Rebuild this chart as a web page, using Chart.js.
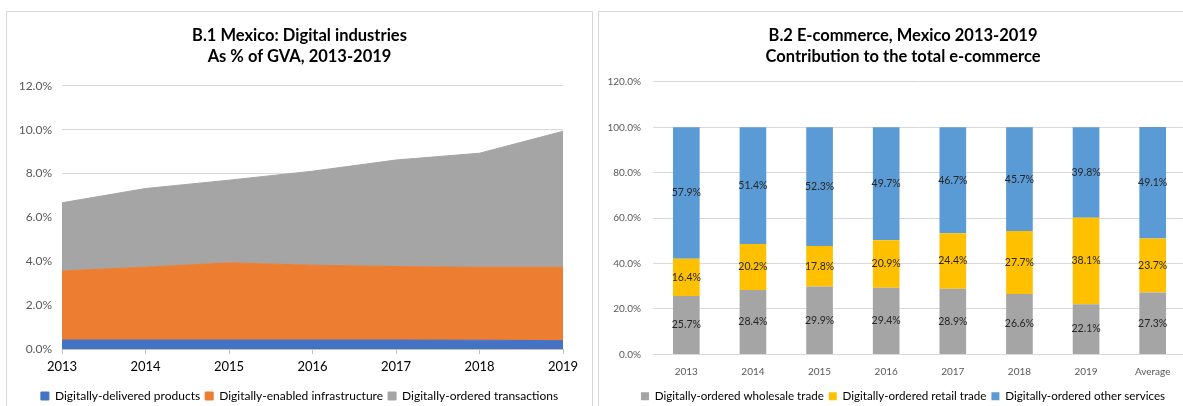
<!DOCTYPE html>
<html>
<head>
<meta charset="utf-8">
<script src="https://cdn.jsdelivr.net/npm/chart.js@4.4.1/dist/chart.umd.min.js"></script>
<style>
  html, body { margin: 0; padding: 0; background: #fff; overflow: hidden; }
  body { width: 1183px; height: 406px; position: relative; }
  .panel { position: absolute; top: 11px; border: 1px solid #d9d9d9; box-sizing: border-box; background: #fff; }
  #p1 { left: 6px; width: 587px; height: 420px; }
  #p2 { left: 598px; width: 640px; height: 420px; }
  canvas { position: absolute; left: 0; top: 0; }
</style>
</head>
<body>
<div class="panel" id="p1"><canvas id="gvaChart" width="585" height="400"></canvas></div>
<div class="panel" id="p2"><canvas id="ecomChart" width="608" height="400"></canvas></div>
<script>
// B.1 data (% of GVA)
const years = ['2013', '2014', '2015', '2016', '2017', '2018', '2019'];
const delivered = [0.41, 0.41, 0.41, 0.41, 0.41, 0.40, 0.38];
const infrastructure = [3.15, 3.32, 3.52, 3.41, 3.35, 3.33, 3.35];
const transactions = [3.11, 3.59, 3.77, 4.29, 4.86, 5.20, 6.20];

// B.2 data (% of total e-commerce)
const ecomCats = ['2013', '2014', '2015', '2016', '2017', '2018', '2019', 'Average'];
const wholesale = [25.7, 28.4, 29.9, 29.4, 28.9, 26.6, 22.1, 27.3];
const retail = [16.4, 20.2, 17.8, 20.9, 24.4, 27.7, 38.1, 23.7];
const otherServices = [57.9, 51.4, 52.3, 49.7, 46.7, 45.7, 39.8, 49.1];

const FONT = 'Lato, "Open Sans", sans-serif';
const pct = v => Number(v).toFixed(1) + '%';

// value labels in the middle of each bar segment
const barLabels = {
    id: 'barLabels',
    afterDatasetsDraw(chart) {
        const ctx = chart.ctx;
        ctx.save();
        ctx.font = '10.5px ' + FONT;
        ctx.fillStyle = '#262626';
        ctx.textAlign = 'center';
        ctx.textBaseline = 'middle';
        chart.data.datasets.forEach((ds, i) => {
            chart.getDatasetMeta(i).data.forEach((bar, j) => {
                const p = bar.getCenterPoint();
                ctx.fillText(pct(ds.data[j]), p.x, p.y);
            });
        });
        ctx.restore();
    }
};

const legendOpts = size => ({
    position: 'bottom',
    labels: { color: '#000', font: { family: FONT, size: size }, boxWidth: 8, boxHeight: 8, padding: 5 }
});

// empty axis on the right, only to keep the plot off the right edge
const spacer = w => ({
    type: 'linear',
    position: 'right',
    afterFit: s => { s.width = w; },
    grid: { display: false },
    border: { display: false },
    ticks: { display: false }
});

// B.1 stacked area chart
new Chart(document.getElementById('gvaChart'), {
    type: 'line',
    data: {
        labels: years,
        datasets: [
            { label: 'Digitally-delivered products', data: delivered, backgroundColor: '#4472C4', borderColor: '#4472C4', fill: 'origin' },
            { label: 'Digitally-enabled infrastructure', data: infrastructure, backgroundColor: '#ED7D31', borderColor: '#ED7D31', fill: '-1' },
            { label: 'Digitally-ordered transactions', data: transactions, backgroundColor: '#A5A5A5', borderColor: '#A5A5A5', fill: '-1' }
        ]
    },
    options: {
        responsive: false,
        animation: false,
        elements: { point: { radius: 0 }, line: { borderWidth: 1, tension: 0 } },
        plugins: {
            title: {
                display: true,
                text: ['B.1 Mexico: Digital industries', 'As % of GVA, 2013-2019'],
                color: '#000',
                font: { family: FONT, size: 16.5, weight: 'bold', lineHeight: 1.27 },
                padding: { top: 13, bottom: 19 }
            },
            legend: legendOpts(12),
            tooltip: { enabled: false }
        },
        scales: {
            x: {
                offset: false,
                afterFit: s => { s.height = 36; },
                grid: { drawOnChartArea: false, color: '#bfbfbf', tickLength: 5 },
                border: { color: '#bfbfbf' },
                ticks: { color: '#000', padding: 5, font: { family: FONT, size: 13 }, maxRotation: 0 }
            },
            y: {
                stacked: true,
                min: 0,
                max: 12,
                afterFit: s => { s.width = 55; },
                grid: { color: '#d9d9d9', drawTicks: false },
                border: { display: false },
                ticks: { stepSize: 2, color: '#595959', padding: 10, font: { family: FONT, size: 12 }, callback: pct }
            },
            pad: spacer(29)
        }
    }
});

// B.2 stacked bar chart
new Chart(document.getElementById('ecomChart'), {
    type: 'bar',
    data: {
        labels: ecomCats,
        datasets: [
            { label: 'Digitally-ordered wholesale trade', data: wholesale, backgroundColor: '#A5A5A5' },
            { label: 'Digitally-ordered retail trade', data: retail, backgroundColor: '#FFC000' },
            { label: 'Digitally-ordered other services', data: otherServices, backgroundColor: '#5B9BD5' }
        ]
    },
    options: {
        responsive: false,
        animation: false,
        categoryPercentage: 1,
        barPercentage: 0.4,
        plugins: {
            title: {
                display: true,
                text: ['B.2 E-commerce, Mexico 2013-2019', 'Contribution to the total e-commerce'],
                color: '#000',
                font: { family: FONT, size: 16.5, weight: 'bold', lineHeight: 1.27 },
                padding: { top: 13, bottom: 15 }
            },
            legend: legendOpts(11.6),
            tooltip: { enabled: false }
        },
        scales: {
            x: {
                stacked: true,
                afterFit: s => { s.height = 31; },
                grid: { display: false },
                border: { color: '#d9d9d9' },
                ticks: { color: '#595959', padding: 3, font: { family: FONT, size: 10 } }
            },
            y: {
                stacked: true,
                min: 0,
                max: 120,
                afterFit: s => { s.width = 54; },
                grid: { color: '#d9d9d9', drawTicks: false },
                border: { display: false },
                ticks: { stepSize: 20, color: '#595959', padding: 12, font: { family: FONT, size: 10 }, callback: pct }
            },
            pad: spacer(21)
        }
    },
    plugins: [barLabels]
});
</script>
</body>
</html>
